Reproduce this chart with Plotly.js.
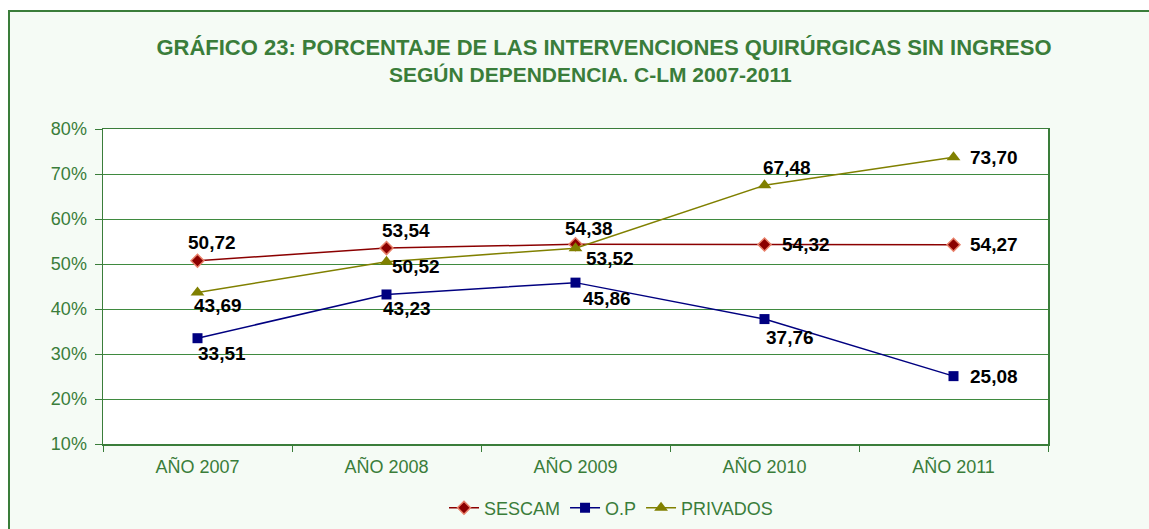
<!DOCTYPE html>
<html>
<head>
<meta charset="utf-8">
<script src="https://cdn.plot.ly/plotly-3.0.1.min.js"></script>
<style>
html,body{margin:0;padding:0;background:#ffffff;overflow:hidden;}
#frame{position:absolute;left:8px;top:10px;width:1200px;height:600px;border:2px solid #3a7d3a;background:#f5fbf5;}
#chart{position:absolute;left:0;top:0;width:1149px;height:529px;}
</style>
</head>
<body>
<div id="frame"></div>
<div id="chart"></div>
<script>
var categories = ['AÑO 2007','AÑO 2008','AÑO 2009','AÑO 2010','AÑO 2011'];
var sescam = [50.72, 53.54, 54.38, 54.32, 54.27];
var op = [33.51, 43.23, 45.86, 37.76, 25.08];
var privados = [43.69, 50.52, 53.52, 67.48, 73.70];
var yTicks = [10, 20, 30, 40, 50, 60, 70, 80];

// label placement offsets (pixels) per point: [xshift, yshift]
var sescamOff = [[14,18],[19,18],[13,16],[41,0],[40,0]];
var opOff = [[24,-15],[20,-14],[31,-16],[25,-18],[40,0]];
var privOff = [[20,-13],[29,-5],[34,-10],[22,18],[40,0]];

function fmt(v){ return v.toFixed(2).replace('.', ','); }
var green = '#3a7d3a';
var FF = 'Liberation Sans, Arial, sans-serif';

var traces = [
  {
    name:'SESCAM', x:categories, y:sescam, type:'scatter', mode:'lines+markers',
    line:{color:'#8b0000', width:1.5},
    marker:{symbol:'diamond', size:10, color:'#8b0000', line:{color:'#e8806a', width:1.5}}
  },
  {
    name:'O.P', x:categories, y:op, type:'scatter', mode:'lines+markers',
    line:{color:'#000080', width:1.5},
    marker:{symbol:'square', size:10, color:'#000080'}
  },
  {
    name:'PRIVADOS', x:categories, y:privados, type:'scatter', mode:'lines+markers',
    line:{color:'#808000', width:1.5},
    marker:{symbol:'triangle-up', size:12, color:'#808000'}
  }
];

var annotations = [];
function addLabels(vals, offs){
  vals.forEach(function(v, i){
    annotations.push({
      x:categories[i], y:v, xref:'x', yref:'y', text:'<b>'+fmt(v)+'</b>',
      showarrow:false, xanchor:'center', yanchor:'middle',
      xshift:offs[i][0], yshift:offs[i][1],
      font:{family:FF, size:19, color:'#000000'}
    });
  });
}
addLabels(sescam, sescamOff);
addLabels(op, opOff);
addLabels(privados, privOff);

annotations.push({
  text:'<b>SEGÚN DEPENDENCIA. C-LM 2007-2011</b>', showarrow:false,
  xref:'paper', yref:'paper', x:(590-103)/945, y:(444-75)/315,
  xanchor:'center', yanchor:'middle',
  font:{family:FF, size:21, color:green}
});

var layout = {
  width:1149, height:529,
  paper_bgcolor:'rgba(0,0,0,0)',
  plot_bgcolor:'#ffffff',
  margin:{l:103, r:101, t:129, b:85},
  font:{family:FF, color:green},
  title:{
    text:'<b>GRÁFICO 23: PORCENTAJE DE LAS INTERVENCIONES QUIRÚRGICAS SIN INGRESO</b>',
    x:604/1149, xanchor:'center', xref:'container',
    y:1-47/529, yanchor:'middle', yref:'container',
    font:{size:22, color:green, family:FF}
  },
  annotations:annotations,
  xaxis:{
    type:'category', range:[-0.5,4.5],
    showline:true, linecolor:green, linewidth:1.5, mirror:true,
    ticks:'outside', tickson:'boundaries', ticklen:6, tickcolor:green,
    ticklabelstandoff:6,
    showgrid:false, tickfont:{size:18, color:green}, automargin:false
  },
  yaxis:{
    range:[10,80], tickvals:yTicks, ticktext:yTicks.map(function(v){return v+'%';}),
    showline:true, linecolor:green, linewidth:1.5, mirror:true,
    ticks:'outside', ticklen:7, tickcolor:green, ticklabelstandoff:4,
    showgrid:true, gridcolor:'#3f8a3f', gridwidth:1,
    zeroline:false, tickfont:{size:18, color:green}, automargin:false
  },
  showlegend:true,
  legend:{orientation:'h', xref:'container', yref:'container',
    x:611/1149, xanchor:'center', y:1-508/529, yanchor:'middle',
    font:{size:18, color:green}, bgcolor:'rgba(0,0,0,0)', itemwidth:30, tracegroupgap:0}
};

Plotly.newPlot('chart', traces, layout, {displayModeBar:false, staticPlot:true});
</script>
</body>
</html>
